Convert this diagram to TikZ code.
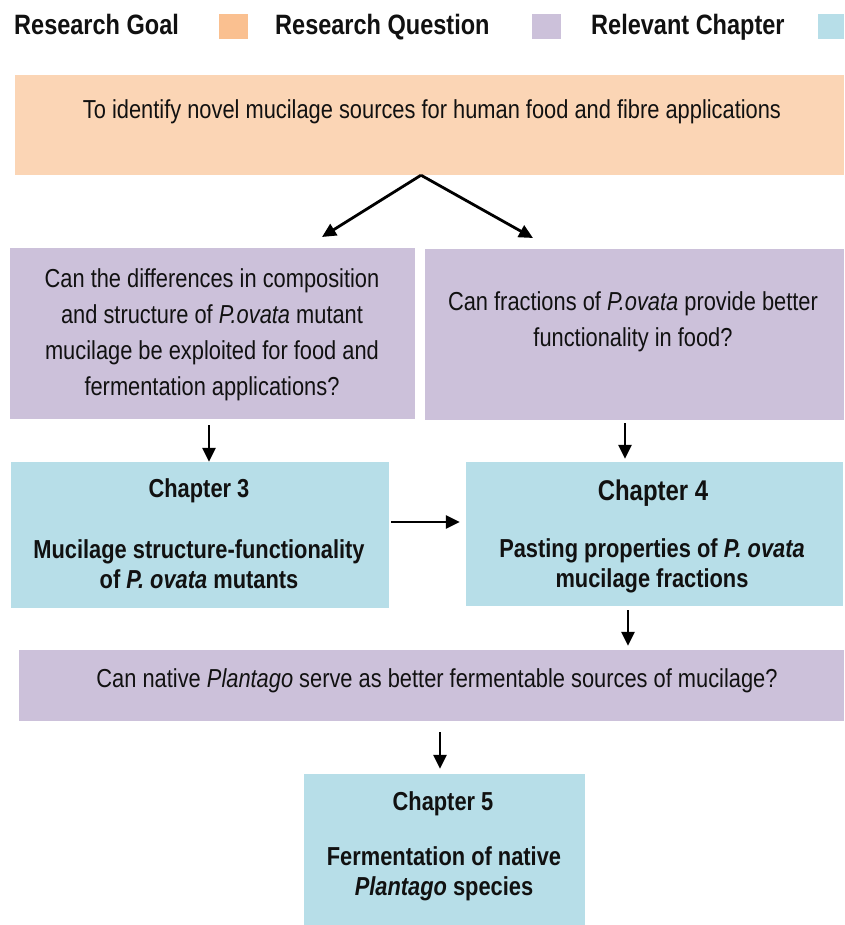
\documentclass[tikz,border=0pt]{standalone}
\usepackage{fontspec}
\setmainfont{Liberation Sans}[FakeStretch=0.84]
\usetikzlibrary{arrows.meta,fit}
\definecolor{goalc}{HTML}{FBD5B5}
\definecolor{goalsw}{HTML}{FAC090}
\definecolor{questc}{HTML}{CCC1DA}
\definecolor{chapc}{HTML}{B7DEE8}
\definecolor{txtc}{HTML}{111111}
\begin{document}
\begin{tikzpicture}[x=1pt,y=-1pt,
  box/.style={rectangle, inner sep=0pt, draw=none},
  txt/.style={inner sep=0pt, align=center, text=txtc, font=\fontsize{26}{36}\selectfont},
  ctxt/.style={inner sep=0pt, align=center, text=txtc, font=\bfseries\fontsize{26}{30}\selectfont},
  leg/.style={inner sep=0pt, anchor=base west, text=txtc, font=\bfseries\fontsize{28}{30}\selectfont},
  swatch/.style={rectangle, inner sep=0pt, minimum width=29pt, minimum height=25pt},
  arr/.style={draw=black, line width=2.8pt, -{Triangle[length=14pt,width=13pt]}}]
\useasboundingbox (0,0) rectangle (844,925);
\fill[white] (0,0) rectangle (844,925);
% legend
\node[leg] (lg1) at (14,35) {Research Goal};
\node[swatch, fill=goalsw] (sw1) at (233.5,26.5) {};
\node[leg] (lg2) at (275,35) {Research Question};
\node[swatch, fill=questc] (sw2) at (546,26.5) {};
\node[leg] (lg3) at (591,35) {Relevant Chapter};
\node[swatch, fill=chapc, minimum width=26pt] (sw3) at (831,26.5) {};
% boxes
\node[box, fill=goalc, fit={(15,75)(844,175)}] (goal) {};
\node[box, fill=questc, fit={(10,248)(415,419)}] (q1) {};
\node[box, fill=questc, fit={(425,249)(844,420)}] (q2) {};
\node[box, fill=chapc, fit={(11,462)(389,608)}] (ch3) {};
\node[box, fill=chapc, fit={(466,462)(843,606)}] (ch4) {};
\node[box, fill=questc, fit={(19,650)(844,721)}] (q3) {};
\node[box, fill=chapc, fit={(304,774)(585,925)}] (ch5) {};
% texts
\node[txt] (tgoal) at (432,112) {To identify novel mucilage sources for human food and fibre applications};
\node[txt] (tq1) at (212,335) {Can the differences in composition\\and structure of \textit{P.ovata} mutant\\mucilage be exploited for food and\\fermentation applications?};
\node[txt] (tq2) at (633,322) {Can fractions of \textit{P.ovata} provide better\\functionality in food?};
\node[ctxt] (tc3a) at (199,491) {Chapter 3};
\node[ctxt] (tc3b) at (199,564) {Mucilage structure-functionality\\of \textit{P. ovata} mutants};
\node[ctxt, font=\bfseries\fontsize{28.5}{30}\selectfont] (tc4a) at (653,493) {Chapter 4};
\node[ctxt] (tc4b) at (652,566) {Pasting properties of \textit{P. ovata}\\mucilage fractions};
\node[txt] (tq3) at (437,681) {Can native \textit{Plantago} serve as better fermentable sources of mucilage?};
\node[ctxt] (tc5a) at (443,804) {Chapter 5};
\node[ctxt] (tc5b) at (444,874) {Fermentation of native\\\textit{Plantago} species};
% connectors
\coordinate (g0) at (421,176);
\coordinate (t1) at (322,237);
\coordinate (t2) at (533,238);
\draw[arr] (goal.south -| g0) -- (t1);
\draw[arr] (goal.south -| g0) -- (t2);
\coordinate (xa) at (209,0);
\draw[arr, shorten <=6pt] (q1.south -| xa) -- (ch3.north -| xa);
\coordinate (xb) at (625,0);
\draw[arr, shorten <=3pt, shorten >=3pt] (q2.south -| xb) -- (ch4.north -| xb);
\coordinate (ya) at (0,522);
\draw[arr, shorten <=2pt, shorten >=6pt] (ch3.east |- ya) -- (ch4.west |- ya);
\coordinate (xc) at (628,0);
\draw[arr, shorten <=4pt, shorten >=4pt] (ch4.south -| xc) -- (q3.north -| xc);
\coordinate (xd) at (440,0);
\draw[arr, shorten <=11pt, shorten >=5pt] (q3.south -| xd) -- (ch5.north -| xd);
\end{tikzpicture}
\end{document}
